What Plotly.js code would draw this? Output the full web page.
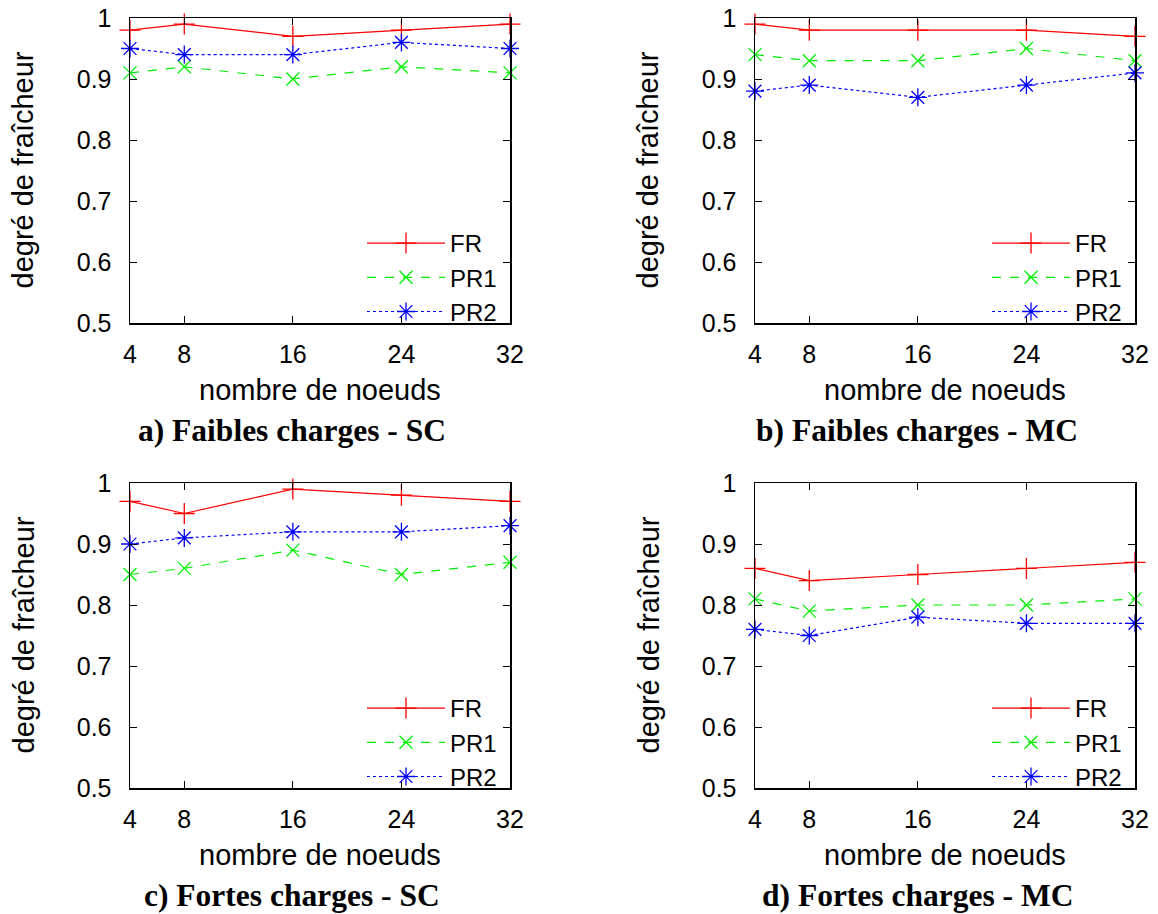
<!DOCTYPE html>
<html>
<head>
<meta charset="utf-8">
<script src="https://cdn.plot.ly/plotly-3.0.1.min.js"></script>
<style>html,body{margin:0;padding:0;background:#fff;}#chart{width:1158px;height:914px;}</style>
</head>
<body>
<div id="chart"></div>
<script>
// ---- data ----
const nodes = [4, 8, 16, 24, 32];
const seriesNames = ["FR", "PR1", "PR2"];
const panelTitles = [
  "a) Faibles charges - SC",
  "b) Faibles charges - MC",
  "c) Fortes charges - SC",
  "d) Fortes charges - MC"
];
const xTitle = "nombre de noeuds";
const yTitle = "degré de fraîcheur";

// a) Faibles charges - SC
const a_FR  = [0.98, 0.99, 0.97, 0.98, 0.99];
const a_PR1 = [0.91, 0.92, 0.90, 0.92, 0.91];
const a_PR2 = [0.95, 0.94, 0.94, 0.96, 0.95];
// b) Faibles charges - MC
const b_FR  = [0.99, 0.98, 0.98, 0.98, 0.97];
const b_PR1 = [0.94, 0.93, 0.93, 0.95, 0.93];
const b_PR2 = [0.88, 0.89, 0.87, 0.89, 0.91];
// c) Fortes charges - SC
const c_FR  = [0.97, 0.95, 0.99, 0.98, 0.97];
const c_PR1 = [0.85, 0.86, 0.89, 0.85, 0.87];
const c_PR2 = [0.90, 0.91, 0.92, 0.92, 0.93];
// d) Fortes charges - MC
const d_FR  = [0.86, 0.84, 0.85, 0.86, 0.87];
const d_PR1 = [0.81, 0.79, 0.80, 0.80, 0.81];
const d_PR2 = [0.76, 0.75, 0.78, 0.77, 0.77];

const panels = [
  [a_FR, a_PR1, a_PR2],
  [b_FR, b_PR1, b_PR2],
  [c_FR, c_PR1, c_PR2],
  [d_FR, d_PR1, d_PR2]
];

// ---- styles ----
const W = 1158, H = 914;
const styles = [
  {color: "#ff0000", dash: "solid", symbol: "cross-thin-open", size: 15},
  {color: "#00ee00", dash: "dash",  symbol: "x-thin-open",     size: 13},
  {color: "#0000ff", dash: "dot",   symbol: "asterisk-open",   size: 15}
];
// plot boxes in pixels [left, right, top, bottom]
const boxes = [
  [130, 510, 18, 323],
  [755, 1135, 18, 323],
  [130, 510, 483, 788],
  [755, 1135, 483, 788]
];

const px = v => v / W;
const py = v => 1 - v / H;
const SANS = "Liberation Sans, Arial, sans-serif";

const traces = [];
const layout = {
  width: W, height: H,
  margin: {l: 0, r: 0, t: 0, b: 0},
  paper_bgcolor: "#fff", plot_bgcolor: "#fff",
  font: {family: SANS, size: 24, color: "#000"},
  showlegend: true,
  annotations: []
};

panels.forEach((series, p) => {
  const k = p + 1;
  const xa = k === 1 ? "x" : "x" + k;
  const ya = k === 1 ? "y" : "y" + k;
  const lg = k === 1 ? "legend" : "legend" + k;
  const [L, R, T, B] = boxes[p];

  series.forEach((vals, s) => {
    const st = styles[s];
    traces.push({
      type: "scatter", mode: "lines+markers",
      x: nodes, y: vals, name: seriesNames[s],
      xaxis: xa, yaxis: ya, legend: lg,
      cliponaxis: false,
      line: {color: st.color, dash: st.dash, width: 1.2},
      marker: {symbol: st.symbol, size: st.size, color: st.color,
               line: {color: st.color, width: 1.3}}
    });
  });

  const axCommon = {
    showline: true, linecolor: "#000", linewidth: 1.5, mirror: "ticks",
    ticks: "inside", ticklen: 7, tickwidth: 1, tickcolor: "#000",
    showgrid: false, zeroline: false, fixedrange: true,
    tickfont: {size: 25, color: "#000", family: SANS}
  };
  layout[k === 1 ? "xaxis" : "xaxis" + k] = Object.assign({}, axCommon, {
    domain: [px(L), px(R)], anchor: ya,
    range: [4, 32], tickmode: "array", tickvals: nodes,
    ticktext: nodes.map(String), ticklabelstandoff: 8
  });
  layout[k === 1 ? "yaxis" : "yaxis" + k] = Object.assign({}, axCommon, {
    domain: [py(B), py(T)], anchor: xa,
    range: [0.5, 1], tick0: 0.5, dtick: 0.1, ticklabelstandoff: 12
  });

  layout[lg] = {
    x: px(R - 8), xanchor: "right",
    y: py(B + 11), yanchor: "bottom",
    bgcolor: "rgba(0,0,0,0)", borderwidth: 0,
    font: {size: 24, color: "#000", family: SANS},
    itemwidth: 78, tracegroupgap: 0,
    traceorder: "normal"
  };

  // axis titles & captions
  layout.annotations.push({
    xref: "paper", yref: "paper", x: px((L + R) / 2), y: py(B + 67),
    xanchor: "center", yanchor: "middle", showarrow: false,
    text: xTitle, font: {size: 29, color: "#000", family: SANS}
  });
  layout.annotations.push({
    xref: "paper", yref: "paper", x: px(L - 107), y: py((T + B) / 2),
    xanchor: "center", yanchor: "middle", showarrow: false, textangle: -90,
    text: yTitle, font: {size: 29, color: "#000", family: SANS}
  });
  layout.annotations.push({
    xref: "paper", yref: "paper", x: px((L + R) / 2 - 28), y: py(B + 107),
    xanchor: "center", yanchor: "middle", showarrow: false,
    text: "<b>" + panelTitles[p] + "</b>",
    font: {size: 31.5, color: "#000", family: "Liberation Serif, Times New Roman, serif"}
  });
});

Plotly.newPlot("chart", traces, layout, {displayModeBar: false, staticPlot: true});
</script>
</body>
</html>
